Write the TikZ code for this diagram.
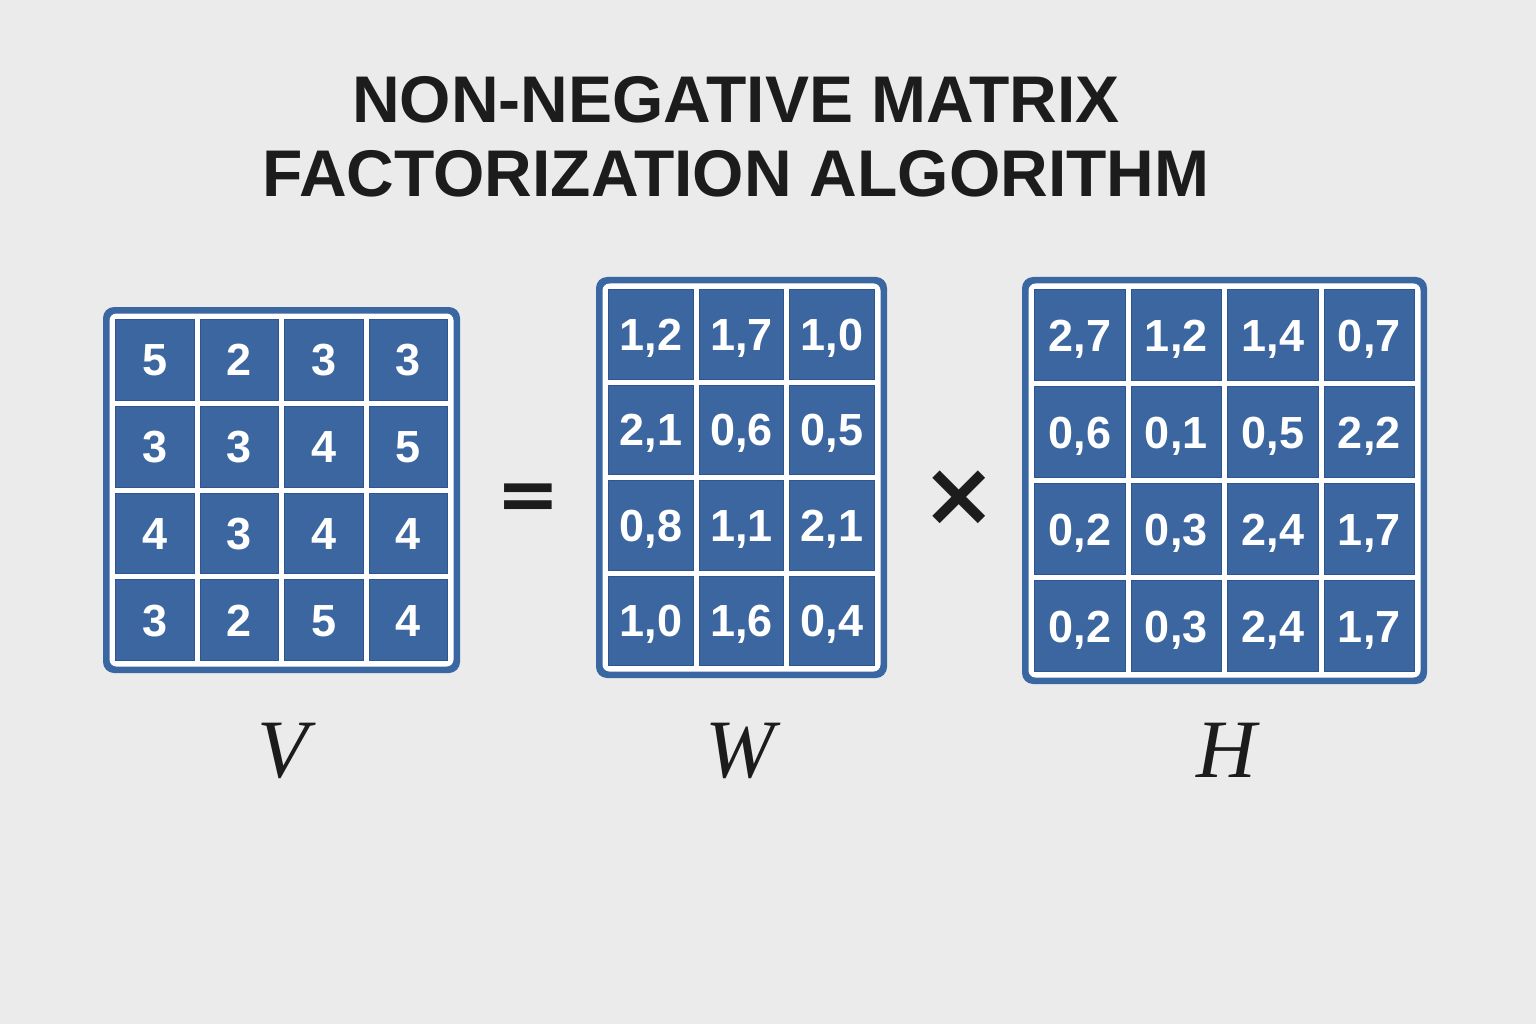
\documentclass[tikz,border=0pt]{standalone}
\usepackage{fontspec}
\setmainfont{Liberation Sans}
\newfontfamily\labfont{Liberation Serif}
\newfontfamily\symfont{DejaVu Sans}
\definecolor{bgc}{HTML}{EBEBEB}
\definecolor{matblue}{HTML}{3A67A2}
\definecolor{cellblue}{HTML}{3B669F}
\definecolor{celledge}{HTML}{2C5592}
\definecolor{ink}{HTML}{1C1C1C}
\tikzset{
  cellbox/.style={fill=cellblue, draw=celledge, line width=0.8pt, inner sep=0pt,
    text=white, font=\fontsize{45}{45}\selectfont\bfseries, text height=32pt, text depth=0pt},
  titletxt/.style={font=\fontsize{66}{66}\selectfont\bfseries, text=ink, anchor=base, inner sep=0pt},
  labtxt/.style={font=\fontsize{83}{83}\selectfont\labfont\itshape, text=ink, anchor=base, inner sep=0pt},
  optxt/.style={text=ink, inner sep=0pt}
}
% #1 name, #2 x0, #3 y0, #4 x1, #5 y1, #6 ncols, #7 nrows, #8 values
\newcommand\drawmat[8]{%
  \fill[matblue, rounded corners=11pt] (#2,#3) rectangle (#4,#5);
  \fill[white, rounded corners=7pt] (#2+6.5,#3+6.5) rectangle (#4-6.5,#5-6.5);
  \pgfmathsetmacro\cw{((#4-#2-25)-6*(#6-1))/#6}
  \pgfmathsetmacro\ch{((#5-#3-25)-6*(#7-1))/#7}
  \foreach \v [count=\i from 0] in {#8} {
    \pgfmathtruncatemacro\rr{floor(\i/#6)}
    \pgfmathtruncatemacro\cc{mod(\i,#6)}
    \pgfmathsetmacro\cx{#2+12.5+\cc*(\cw+6)+\cw/2}
    \pgfmathsetmacro\cy{#3+12.5+\rr*(\ch+6)+\ch/2}
    \node[cellbox, minimum width=\cw pt, minimum height=\ch pt] (#1-\rr-\cc) at (\cx,\cy) {\v};
  }
}
\begin{document}
\begin{tikzpicture}[x=1pt,y=-1pt]
\fill[bgc] (0,0) rectangle (1536,1024);
\useasboundingbox (0,0) rectangle (1536,1024);

\node[titletxt] (t1) at (736,123) {NON-NEGATIVE MATRIX};
\node[titletxt] (t2) at (736,197) {FACTORIZATION ALGORITHM};

\drawmat{V}{103}{307}{460}{673}{4}{4}{5,2,3,3,3,3,4,5,4,3,4,4,3,2,5,4}
\drawmat{W}{596}{277}{887}{678}{3}{4}{{1,2},{1,7},{1,0},{2,1},{0,6},{0,5},{0,8},{1,1},{2,1},{1,0},{1,6},{0,4}}
\drawmat{H}{1022}{277}{1427}{684}{4}{4}{{2,7},{1,2},{1,4},{0,7},{0,6},{0,1},{0,5},{2,2},{0,2},{0,3},{2,4},{1,7},{0,2},{0,3},{2,4},{1,7}}

\node[optxt, font=\fontsize{76}{76}\selectfont\symfont\bfseries] (eq) at (528,502) {=};
\node[optxt, font=\fontsize{90}{90}\selectfont\symfont\bfseries] (times) at (959,498) {×};

\node[labtxt] (lV) at (283,777) {V};
\node[labtxt] (lW) at (740,777) {W};
\node[labtxt] (lH) at (1226,777) {H};
\end{tikzpicture}
\end{document}
